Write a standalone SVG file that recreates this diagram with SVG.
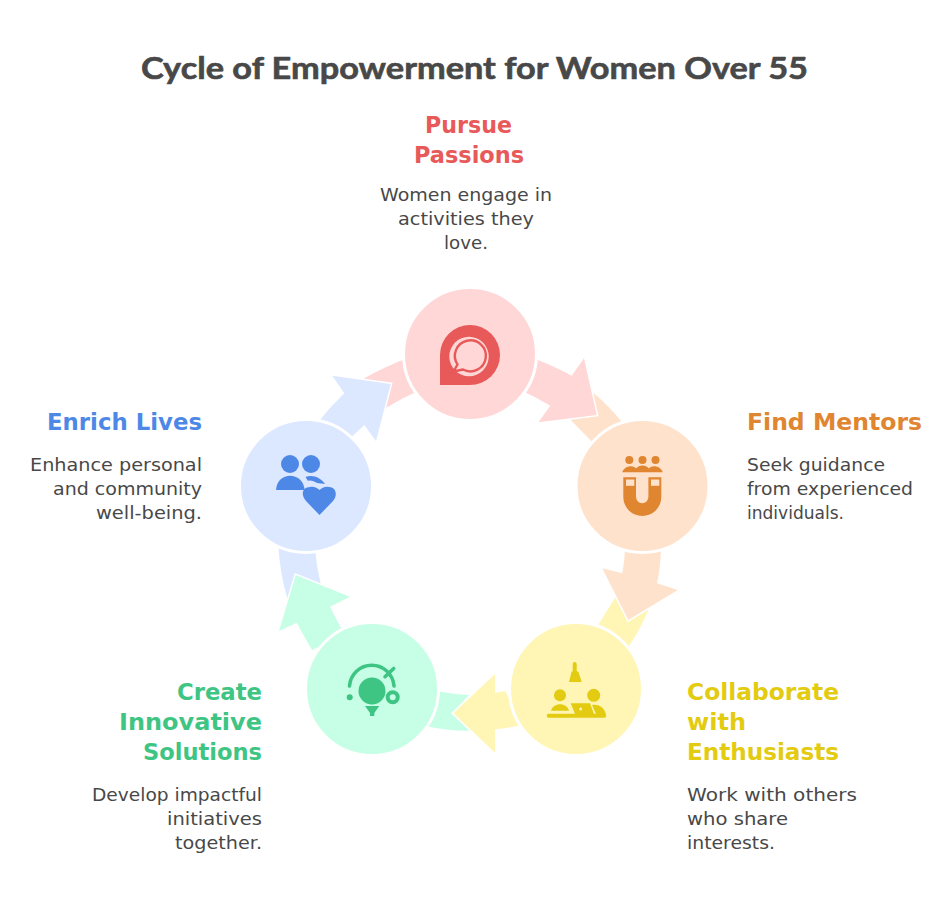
<svg xmlns="http://www.w3.org/2000/svg" width="949" height="900" viewBox="0 0 949 900">
<style>
text{font-family:"DejaVu Sans","Noto Sans",sans-serif}
.t{font-family:"Lato","Noto Sans",sans-serif;font-size:30px;font-weight:700;fill:#484848;stroke:#484848;stroke-width:.6px;stroke-linejoin:round}
.h{font-size:23px;font-weight:700}
.d{font-size:18.500px;fill:#484848}
.e{text-anchor:end}.m{text-anchor:middle}
.a path{stroke:#fff;stroke-width:3;paint-order:stroke}
.a .n{stroke:none}
.c{stroke:#fff;stroke-width:3}
.r{fill:#FFD7D7}.o{fill:#FFE2CB}.y{fill:#FFF6B6}.g{fill:#C6FFE5}.b{fill:#DBE8FF}
.R{fill:#E85959}.O{fill:#E08530}.Y{fill:#E3CB11}.G{fill:#3FC583}.B{fill:#4E88E7}
</style>
<rect width="949" height="900" fill="#fff"/>
<text class="t m" x="474.500" y="79" textLength="667" lengthAdjust="spacingAndGlyphs">Cycle of Empowerment for Women Over 55</text>
<g id="connectors" class="a">
<path class="r n" d="M364.300,378.300Q384,367 410,357L420,390Q402,398 386,407.700Z"/>
<path class="o n" d="M570.700,420L593.300,392.700Q609,406 621.700,421.700L600,450Z"/>
<path class="y n" d="M615,597.700L648.300,610Q640,630 628.300,647.300L595,630Z"/>
<path class="g n" d="M469.300,695L451.700,713.300L469.300,730.700Q448,731 425,726L435,691Q452,694 469.300,695Z"/>
<path class="b n" d="M278.300,545L315,545Q316,565 320.700,583.300L287.300,598.300Q280,574 278.300,545Z"/>
<path class="r" d="M530,357Q552,365 571.700,375.700L584,358.300L596.700,415L538.300,422.300L550.300,405.700Q536,397 520,390Z"/>
<path class="o" d="M625,545L661,545Q661,565 657,583.300L677.700,590L628.300,620L602.300,568.300L622.300,573.300Q625,560 625,545Z"/>
<path class="y" d="M505,691Q500,692 495,692.700L495,674L453.300,713.300L495,752.700L495,729.300Q510,728 525,724Z"/>
<path class="g" d="M345,635Q337,621 330,606.700L350,596.700L295.700,575L279,631L296.700,622.700Q305,638 312,650Z"/>
<path class="b" d="M316,425Q329,408 344.300,393.300L332.300,375.700L390.700,384L376,441L364.300,425Q357,432 348,440Z"/>
</g>
<g id="node-passions">
<circle class="r c" cx="470" cy="354" r="66.500"/>
<path class="R" d="M440,385V355A30,30 0 1 1 470,385Z"/>
<circle class="r" cx="469" cy="356.500" r="19.700"/>
<path fill="none" stroke="#E85959" stroke-width="2.400" stroke-linejoin="round" d="M453.500,371.500L457.500,364.500A15.500,15.500 0 1 1 463,369.500Q458,370.500 453.500,371.500Z"/>
</g>
<g id="node-mentors">
<circle class="o c" cx="642.500" cy="486" r="66.500"/>
<g class="O">
<circle cx="629.300" cy="460" r="4"/><circle cx="642.500" cy="460" r="4"/><circle cx="655.500" cy="460" r="4"/>
<path d="M622.300,472.300C624,466 633,464.500 636,468.500C639,464.500 646,464.500 649,468.500C652,464.500 661,466 662.700,472.300Z"/>
<path d="M623.300,477.300H636V497A6.200,6.200 0 0 0 648.400,497V477.300H661.300V497A19,19 0 0 1 623.300,497Z"/>
</g>
<rect class="o" x="626" y="479.500" width="8.300" height="6.300"/><rect class="o" x="651" y="479.500" width="8.300" height="6.300"/>
</g>
<g id="node-enthusiasts">
<circle class="y c" cx="576" cy="689" r="66.500"/>
<g class="Y">
<path d="M572.700,664A2,2 0 0 1 576.700,664V671L578.500,672L581.700,682H569L571.500,672L572.700,671Z"/>
<circle cx="560" cy="695.300" r="6"/><circle cx="593.700" cy="695.300" r="6.500"/>
<path d="M551,710.700C553,702 567,702 569,710.700Z"/>
<path d="M570.700,703.300H590L594,714H575Z"/>
<path d="M592,705C601,704 604,709 606,714L596,714Z"/>
<rect x="546.700" y="713.700" width="59.500" height="4" rx="2"/>
</g>
<circle class="y" cx="580.700" cy="709" r="1.500"/>
</g>
<g id="node-solutions">
<circle class="g c" cx="372" cy="689" r="66.500"/>
<g class="G">
<circle cx="372" cy="691" r="13.500"/>
<path d="M365,706H379.300L374.300,713V716H370V713Z"/>
<circle cx="349.700" cy="697.300" r="3"/>
<circle cx="392.700" cy="697.300" r="5" fill="none" stroke="#3FC583" stroke-width="4"/>
</g>
<path fill="none" stroke="#3FC583" stroke-width="3.600" stroke-linecap="round" d="M349.500,686A22.300,22.300 0 0 1 394,686M385,676.700L393.700,668.500"/>
</g>
<g id="node-lives">
<circle class="b c" cx="306" cy="486" r="66.500"/>
<g class="B">
<circle cx="290" cy="464" r="9"/><circle cx="311" cy="464" r="9"/>
<path d="M276,490C277,471 303,471 304.700,490Z"/>
<path d="M305.500,477C313,474 321,478 325,484L317,483C314,481 310,480 308,481Z"/>
<path d="M319.500,515L306,501C300,494 303,487 310,487C314,486 317,488 319.500,490C322,488 325,486 329,487C336,487 338,495 333,501Z"/>
</g>
</g>
<text class="h m R" x="468.500" y="133" textLength="87" lengthAdjust="spacingAndGlyphs">Pursue</text>
<text class="h m R" x="469" y="163" textLength="110" lengthAdjust="spacingAndGlyphs">Passions</text>
<g class="d">
<text class="m" x="466" y="201" textLength="172" lengthAdjust="spacingAndGlyphs">Women engage in</text>
<text class="m" x="466" y="225" textLength="136" lengthAdjust="spacingAndGlyphs">activities they</text>
<text class="m" x="466" y="249" textLength="44" lengthAdjust="spacingAndGlyphs">love.</text>
</g>
<text class="h O" x="747" y="430" textLength="175" lengthAdjust="spacingAndGlyphs">Find Mentors</text>
<g class="d">
<text x="747" y="471" textLength="138" lengthAdjust="spacingAndGlyphs">Seek guidance</text>
<text x="747" y="495" textLength="166" lengthAdjust="spacingAndGlyphs">from experienced</text>
<text x="747" y="519" textLength="97" lengthAdjust="spacingAndGlyphs">individuals.</text>
</g>
<text class="h Y" x="687" y="700" textLength="152" lengthAdjust="spacingAndGlyphs">Collaborate</text>
<text class="h Y" x="687" y="730" textLength="59" lengthAdjust="spacingAndGlyphs">with</text>
<text class="h Y" x="687" y="760" textLength="152" lengthAdjust="spacingAndGlyphs">Enthusiasts</text>
<g class="d">
<text x="687" y="801" textLength="170" lengthAdjust="spacingAndGlyphs">Work with others</text>
<text x="687" y="825" textLength="101" lengthAdjust="spacingAndGlyphs">who share</text>
<text x="687" y="849" textLength="88" lengthAdjust="spacingAndGlyphs">interests.</text>
</g>
<text class="h e G" x="262" y="700" textLength="85" lengthAdjust="spacingAndGlyphs">Create</text>
<text class="h e G" x="262" y="730" textLength="143" lengthAdjust="spacingAndGlyphs">Innovative</text>
<text class="h e G" x="262" y="760" textLength="119" lengthAdjust="spacingAndGlyphs">Solutions</text>
<g class="d">
<text class="e" x="262" y="801" textLength="170" lengthAdjust="spacingAndGlyphs">Develop impactful</text>
<text class="e" x="262" y="825" textLength="95" lengthAdjust="spacingAndGlyphs">initiatives</text>
<text class="e" x="262" y="849" textLength="87" lengthAdjust="spacingAndGlyphs">together.</text>
</g>
<text class="h e B" x="202" y="430" textLength="155" lengthAdjust="spacingAndGlyphs">Enrich Lives</text>
<g class="d">
<text class="e" x="202" y="471" textLength="172" lengthAdjust="spacingAndGlyphs">Enhance personal</text>
<text class="e" x="202" y="495" textLength="149" lengthAdjust="spacingAndGlyphs">and community</text>
<text class="e" x="202" y="519" textLength="106" lengthAdjust="spacingAndGlyphs">well-being.</text>
</g>
</svg>
